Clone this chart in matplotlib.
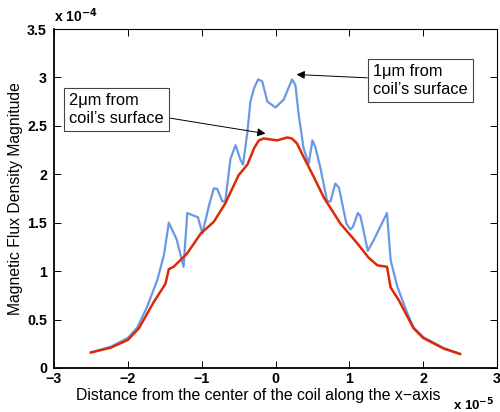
import matplotlib
matplotlib.use("Agg")
import matplotlib.pyplot as plt

plt.rcParams["font.family"] = ["Liberation Sans", "DejaVu Sans"]

# distance in units of 1e-5, flux density in units of 1e-4
x_2um = [-2.5, -2.23, -2.0, -1.85, -1.65, -1.49, -1.445, -1.38, -1.2, -1.01, -0.835,
         -0.68, -0.5, -0.38, -0.29, -0.225, -0.16, -0.07, 0.02, 0.16, 0.22, 0.29,
         0.38, 0.52, 0.655, 0.88, 1.105, 1.26, 1.38, 1.51, 1.56, 1.67, 1.87, 2.0,
         2.28, 2.5]
y_2um = [0.16, 0.21, 0.29, 0.41, 0.68, 0.87, 1.02, 1.045, 1.18, 1.39, 1.51,
         1.70, 1.99, 2.10, 2.27, 2.35, 2.37, 2.36, 2.35, 2.38, 2.37, 2.32,
         2.18, 1.97, 1.76, 1.49, 1.29, 1.14, 1.06, 1.045, 0.83, 0.70, 0.41, 0.31,
         0.20, 0.145]

x_1um = [-2.5, -2.23, -2.0, -1.87, -1.74, -1.60, -1.51, -1.445, -1.34, -1.245,
         -1.195, -1.05, -0.99, -0.90, -0.835, -0.79, -0.72, -0.68, -0.61, -0.54,
         -0.475, -0.44, -0.38, -0.34, -0.29, -0.235, -0.18, -0.11, 0.0, 0.11,
         0.225, 0.27, 0.315, 0.38, 0.45, 0.50, 0.54, 0.61, 0.70, 0.745, 0.81,
         0.86, 0.96, 1.015, 1.05, 1.115, 1.15, 1.25, 1.33, 1.51, 1.56, 1.65,
         1.785, 1.87, 2.0, 2.28, 2.5]
y_1um = [0.16, 0.22, 0.31, 0.42, 0.63, 0.91, 1.17, 1.50, 1.33, 1.045,
         1.60, 1.555, 1.39, 1.68, 1.855, 1.85, 1.72, 1.72, 2.16, 2.30,
         2.15, 2.10, 2.44, 2.75, 2.89, 2.98, 2.96, 2.75, 2.69, 2.77,
         2.98, 2.92, 2.61, 2.27, 2.11, 2.35, 2.28, 2.06, 1.72, 1.72, 1.905,
         1.86, 1.49, 1.43, 1.46, 1.60, 1.57, 1.21, 1.32, 1.60, 1.11, 0.84,
         0.565, 0.42, 0.32, 0.205, 0.145]

xticks = [-3, -2, -1, 0, 1, 2, 3]
xticklabels = ["\u22123", "\u22122", "\u22121", "0", "1", "2", "3"]
yticks = [0, 0.5, 1, 1.5, 2, 2.5, 3, 3.5]
yticklabels = ["0", "0.5", "1", "1.5", "2", "2.5", "3", "3.5"]

fig = plt.figure(figsize=(5.0, 4.12), dpi=100)
ax = fig.add_axes([0.108, 0.1068, 0.886, 0.8228])

ax.plot(x_1um, y_1um, color="#6a98e6", linewidth=1.6)
ax.plot(x_2um, y_2um, color="#dc2a06", linewidth=1.8)

ax.set_xlim(-3, 3)
ax.set_ylim(0, 3.5)
ax.set_xticks(xticks)
ax.set_xticklabels(xticklabels, fontsize=10.3, fontweight="bold")
ax.set_yticks(yticks)
ax.set_yticklabels(yticklabels, fontsize=10.3, fontweight="bold")
ax.tick_params(direction="in", top=True, right=True, length=5, width=0.7)
ax.tick_params(axis="x", pad=3)
ax.tick_params(axis="y", pad=5)
for side in ["left", "bottom"]:
    ax.spines[side].set_linewidth(1.3)
for side in ["top", "right"]:
    ax.spines[side].set_linewidth(0.8)

ax.set_xlabel("Distance from the center of the coil along the x\u2212axis", fontsize=11.4)
ax.xaxis.set_label_coords(0.46, -0.058, transform=ax.transAxes)
ax.xaxis.label.set_va("top")
ax.set_ylabel("Magnetic Flux Density Magnitude", fontsize=11.3, labelpad=3)

ax.text(0.0, 1.012, "x 10$^{\\mathbf{-4}}$", transform=ax.transAxes, fontsize=10,
        fontweight="bold", ha="left", va="bottom")
ax.text(0.995, -0.085, "x 10$^{\\mathbf{-5}}$", transform=ax.transAxes, fontsize=9.5,
        fontweight="bold", ha="right", va="top")

box = dict(boxstyle="square,pad=0.32", facecolor="white", edgecolor="#444444", linewidth=0.8)
arrow = dict(arrowstyle="-|>", color="black", linewidth=0.7, mutation_scale=12, shrinkA=0, shrinkB=0)

ax.annotate("1\u03bcm from\ncoil\u2019s surface", xy=(0.285, 3.03), xytext=(1.32, 2.97),
            fontsize=11.8, ha="left", va="center", bbox=box, arrowprops=arrow,
            linespacing=1.2)
ax.annotate("2\u03bcm from\ncoil\u2019s surface", xy=(-0.135, 2.42), xytext=(-2.80, 2.67),
            fontsize=11.8, ha="left", va="center", bbox=box, arrowprops=arrow,
            linespacing=1.2)

fig.savefig("out.png", dpi=100)
